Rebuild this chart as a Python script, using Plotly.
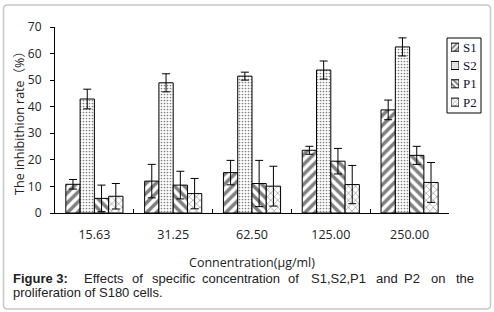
import plotly.graph_objects as go

categories = ["15.63", "31.25", "62.50", "125.00", "250.00"]
series_names = ["S1", "S2", "P1", "P2"]
s1 = [10.8, 12.0, 15.2, 23.6, 38.8]
s1_err = [1.8, 6.3, 4.6, 1.5, 3.7]
s2 = [42.9, 49.0, 51.5, 53.8, 62.5]
s2_err = [3.7, 3.4, 1.5, 3.4, 3.4]
p1 = [5.5, 10.5, 11.1, 19.5, 21.7]
p1_err = [5.0, 5.2, 8.7, 4.8, 3.4]
p2 = [6.3, 7.3, 10.1, 10.7, 11.5]
p2_err = [4.8, 5.7, 7.5, 7.2, 7.5]
y_ticks = [0, 10, 20, 30, 40, 50, 60, 70]

values = [s1, s2, p1, p2]
errors = [s1_err, s2_err, p1_err, p2_err]
pat_shape = ["/", ".", "\\", "x"]
pat_size = [7, 3, 7, 5]
pat_solid = [0.5, 0.25, 0.5, 0.2]

W, H = 494, 312
L, R, T, B = 55, 8, 27, 99
PW, PH = W - L - R, H - T - B
PLOT_RIGHT = 449


def px(x):
    return (x - L) / PW


def py(y):
    return (H - B - y) / PH


fig = go.Figure()
for name, vals, errs, sh, sz, so in zip(series_names, values, errors, pat_shape, pat_size, pat_solid):
    fig.add_trace(go.Bar(
        name=name, x=categories, y=vals, showlegend=False,
        marker=dict(color="white", line=dict(color="black", width=1),
                    pattern=dict(shape=sh, size=sz, solidity=so, fgcolor="black", bgcolor="white")),
        error_y=dict(type="data", array=errs, color="black", thickness=1, width=4),
    ))

# custom legend swatches
fig.add_trace(go.Bar(
    y=series_names, x=[1, 1, 1, 1], orientation="h", width=0.44, offset=-0.22,
    xaxis="x2", yaxis="y2", showlegend=False, hoverinfo="skip",
    marker=dict(color="white", line=dict(color="black", width=1),
                pattern=dict(shape=pat_shape, size=[4, 2, 4, 3], solidity=[0.5, 0.3, 0.5, 0.25],
                             fgcolor="black", bgcolor="white")),
))

axis_font = dict(family="Open Sans, Noto Sans CJK SC", size=12, color="#222")

fig.update_layout(
    width=W, height=H, margin=dict(l=L, r=R, t=T, b=B),
    paper_bgcolor="white", plot_bgcolor="white",
    barmode="group", bargap=0.275, bargroupgap=0,
    xaxis=dict(domain=[0, px(PLOT_RIGHT)], type="category", categoryarray=categories, showline=True,
               linecolor="black", linewidth=1,
               ticks="inside", ticklen=4, tickcolor="black", tickson="boundaries", showgrid=False,
               tickfont=dict(family="Open Sans", size=12.5, color="#222"), ticklabelstandoff=10,
               title=dict(text="Connentration(μg/ml)", font=dict(family="Open Sans", size=12.5, color="#222"), standoff=16)),
    yaxis=dict(range=[0, 70], tickvals=y_ticks, showline=True, linecolor="black", linewidth=1,
               ticks="outside", ticklen=4, tickcolor="black", showgrid=False, zeroline=False,
               tickfont=axis_font, ticklabelstandoff=6,
               title=dict(text="The inhibithion rate（%）", font=dict(family="Open Sans, Noto Sans CJK SC", size=12.5, color="#222"), standoff=0)),
    xaxis2=dict(domain=[px(451), px(459)], range=[0, 1], visible=False, anchor="y2", fixedrange=True),
    yaxis2=dict(domain=[py(111.3), py(38)], type="category", categoryarray=series_names,
                autorange="reversed", visible=False, anchor="x2", fixedrange=True),
)

shapes = []
# legend box
shapes.append(dict(type="rect", xref="paper", yref="paper", x0=px(447), x1=px(481), y0=py(113), y1=py(38),
                   line=dict(color="black", width=1), fillcolor="rgba(0,0,0,0)"))
# outer rounded frame
x0, x1, yt, yb = px(3.5), px(490.5), py(5), py(309)
rx, ry = 4 / PW, 4 / PH
path = (f"M {x0+rx},{yt} L {x1-rx},{yt} Q {x1},{yt} {x1},{yt-ry} L {x1},{yb+ry} Q {x1},{yb} {x1-rx},{yb} "
        f"L {x0+rx},{yb} Q {x0},{yb} {x0},{yb+ry} L {x0},{yt-ry} Q {x0},{yt} {x0+rx},{yt} Z")
shapes.append(dict(type="path", xref="paper", yref="paper", path=path, line=dict(color="#c8c8c8", width=1.5)))
fig.update_layout(shapes=shapes)

annotations = []
legend_y = [47, 65.3, 83.7, 102]
for name, yy in zip(series_names, legend_y):
    annotations.append(dict(text=name, xref="paper", yref="paper", x=px(461), y=py(yy), xanchor="left",
                            yanchor="middle", showarrow=False,
                            font=dict(family="Liberation Serif", size=13, color="#111133")))

cap_font = dict(family="Liberation Sans", size=13, color="#222")
line1 = [("<b>Figure 3:</b>", 11.5), ("Effects", 82.5), ("of", 131.0), ("specific", 150.5), ("concentration", 200.5),
         ("of", 287), ("S1,S2,P1", 310), ("and", 375), ("P2", 403), ("on", 430), ("the", 455)]
for txt, xx in line1:
    annotations.append(dict(text=txt, xref="paper", yref="paper", x=px(xx - 1), y=py(278.3), xanchor="left",
                            yanchor="middle", showarrow=False, font=cap_font))
annotations.append(dict(text="proliferation of S180 cells.", xref="paper", yref="paper", x=px(10.5), y=py(292.5),
                        xanchor="left", yanchor="middle", showarrow=False, font=cap_font))
fig.update_layout(annotations=annotations)

fig.write_html("out.html", config={"displayModeBar": False},
               post_script="document.body.style.margin='0';")
